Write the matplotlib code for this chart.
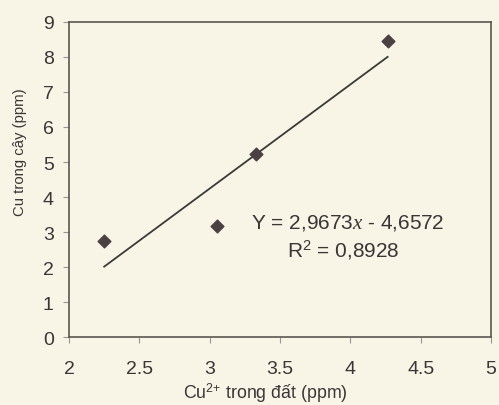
import matplotlib.pyplot as plt
import numpy as np

plt.rcParams['font.family'] = ['Liberation Sans', 'DejaVu Sans']
plt.rcParams['mathtext.fontset'] = 'custom'
plt.rcParams['mathtext.rm'] = 'Liberation Sans'
plt.rcParams['mathtext.it'] = 'Liberation Serif:italic'

# Cu2+ trong dat (ppm) vs Cu trong cay (ppm)
cu_dat = [2.25, 3.05, 3.33, 4.265]
cu_cay = [2.76, 3.19, 5.23, 8.46]
slope = 2.9673
intercept = -4.6572
r2 = 0.8928

bg = '#f8f4e6'
ink = '#3a3636'

fig = plt.figure(figsize=(4.99, 4.06), dpi=100, facecolor=bg)
ax = fig.add_axes([0.1383, 0.1663, 0.8457, 0.7777], facecolor=bg)

ax.scatter(cu_dat, cu_cay, marker='D', s=42, color='#4a4242', zorder=3)
xs = np.array([min(cu_dat), max(cu_dat)])
ax.plot(xs, slope * xs + intercept, color='#3a3a36', lw=1.3)

ax.text(3.98, 3.29, 'Y = 2,9673$\\mathit{x}$ - 4,6572', ha='center', va='center',
        fontsize=15, color=ink)
ax.text(3.95, 2.52, 'R$^2$ = 0,8928', ha='center', va='center',
        fontsize=15, color=ink)

ax.set_xlim(2, 5)
ax.set_ylim(0, 9)
ax.set_xticks([2, 2.5, 3, 3.5, 4, 4.5, 5])
ax.set_xticklabels(['2', '2.5', '3', '3.5', '4', '4.5', '5'])
ax.set_yticks(range(0, 10))
ax.tick_params(labelsize=14, colors='#999590', labelcolor=ink, length=4, width=0.8)
ax.tick_params(axis='x', pad=12)
ax.tick_params(axis='y', pad=7)
for s in ax.spines.values():
    s.set_color('#5a5652')
    s.set_linewidth(1.2)

ax.set_xlabel('Cu$^{2{+}}$ trong đất (ppm)', fontsize=12.8, color=ink)
ax.xaxis.set_label_coords(0.465, -0.138)
ax.set_ylabel('Cu trong cây (ppm)', fontsize=10.7, color=ink,
              family=['Liberation Sans Narrow', 'Liberation Sans'])
ax.yaxis.set_label_coords(-0.10, 0.59)

fig.savefig('out.png', dpi=100, facecolor=bg)
